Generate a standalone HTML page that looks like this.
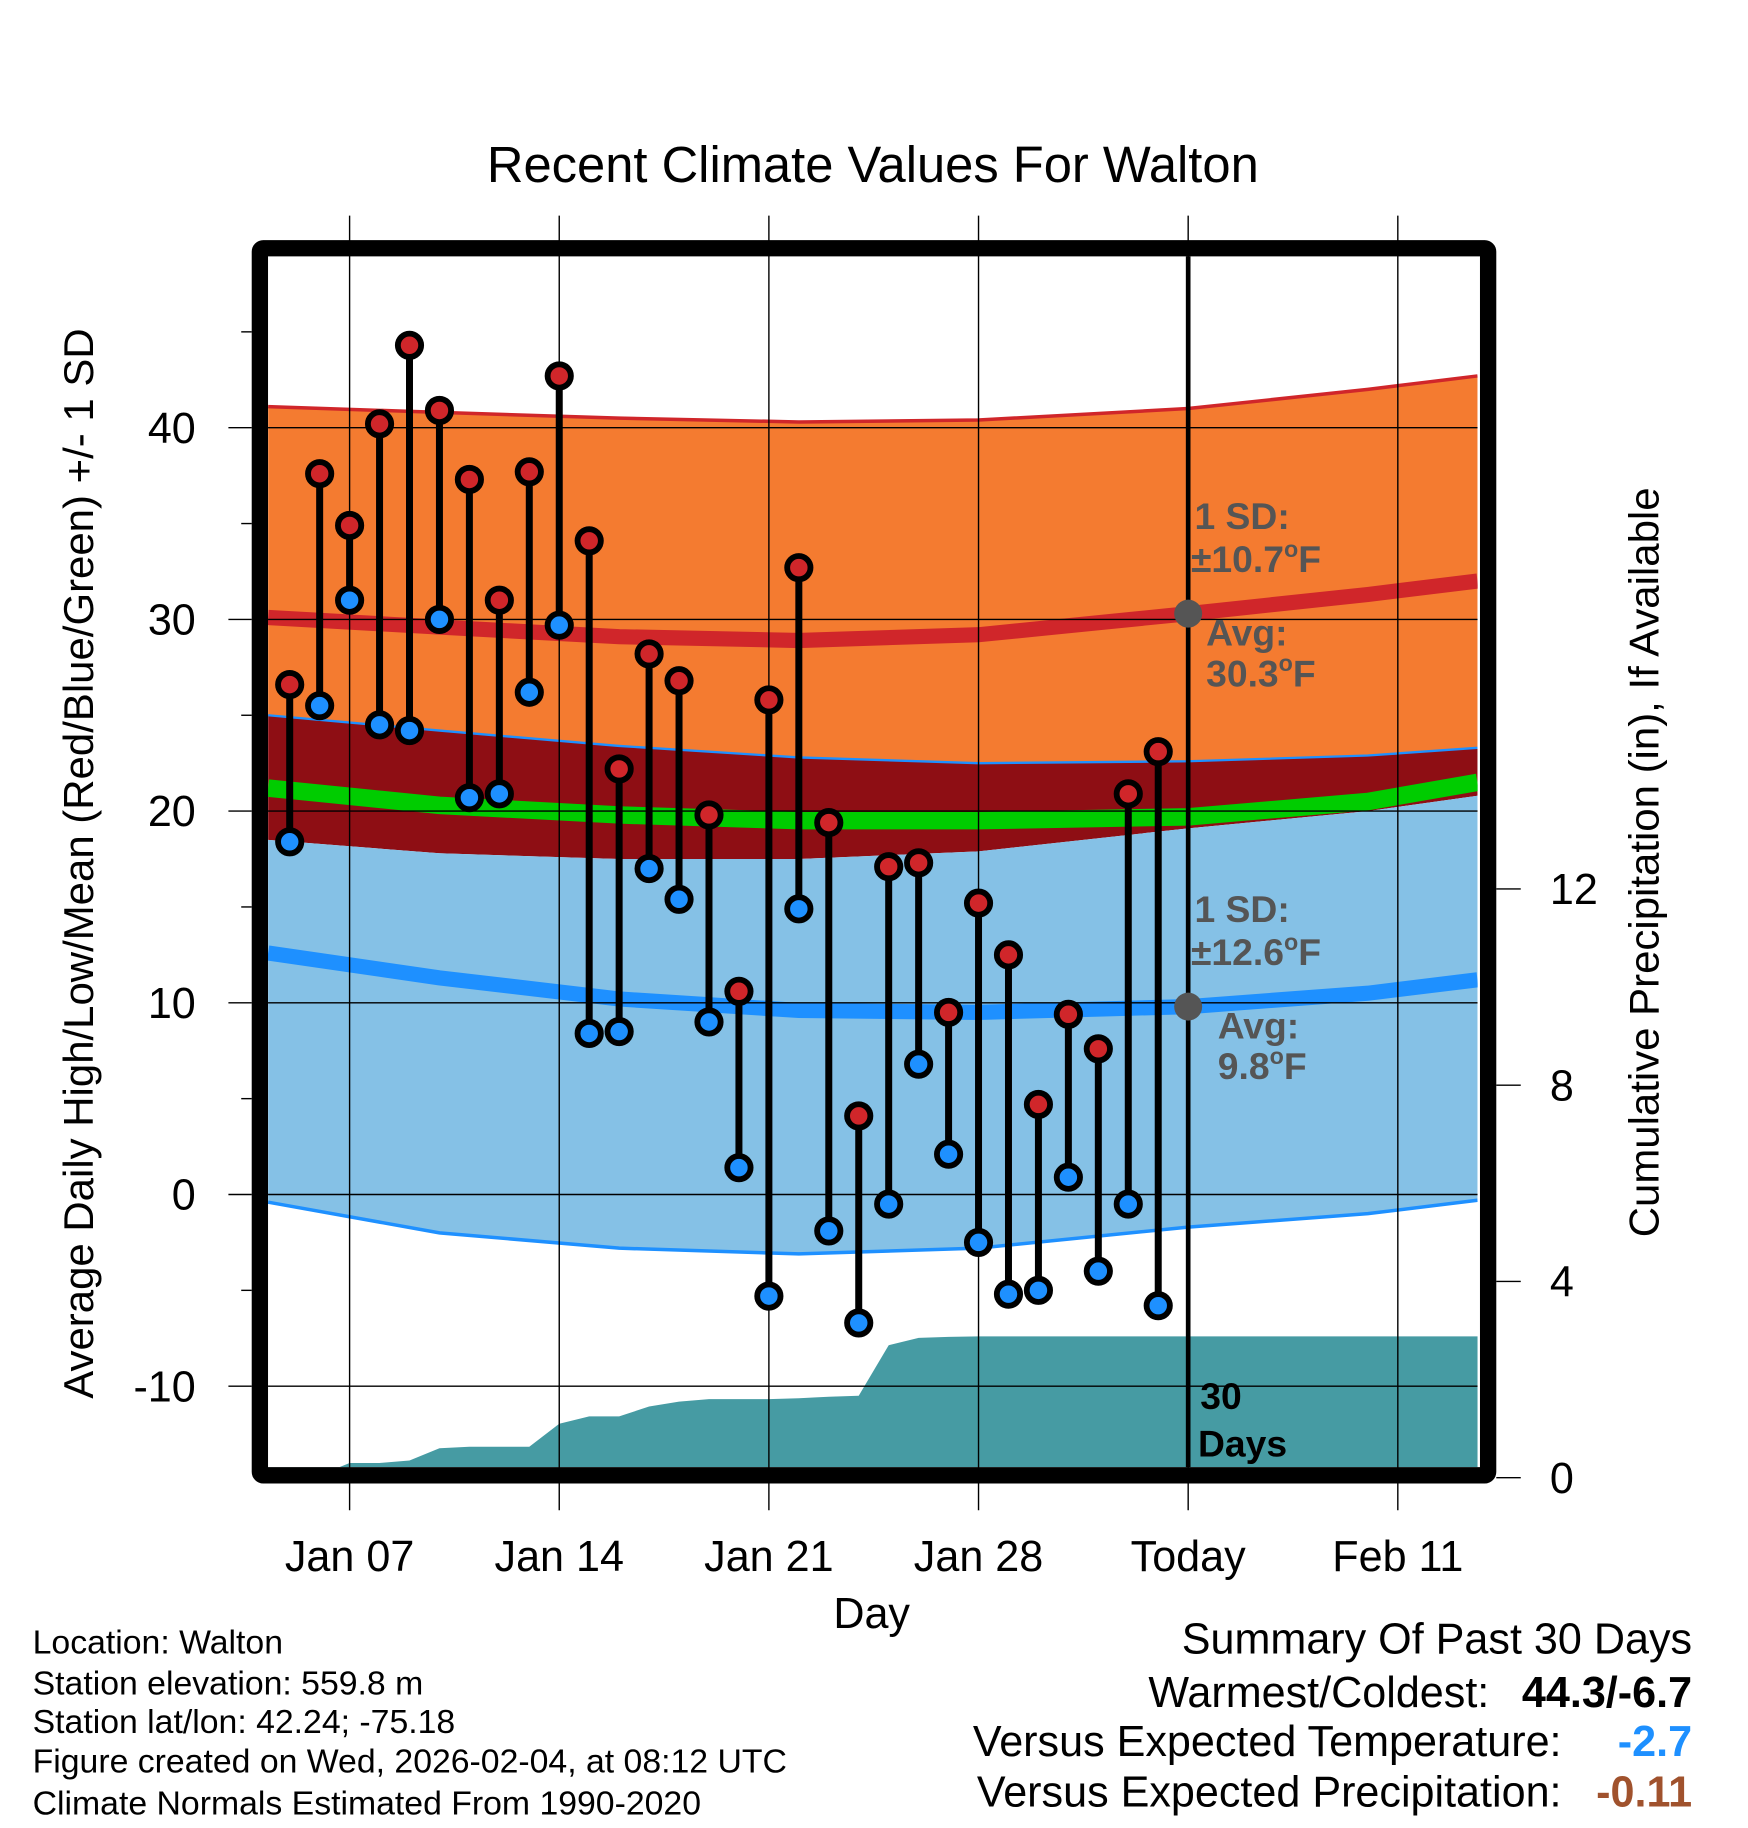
<!DOCTYPE html>
<html><head><meta charset="utf-8"><style>
html,body{margin:0;padding:0;background:#fff}
svg{display:block;font-family:"Liberation Sans",Arial,sans-serif}
</style></head><body>
<svg id="chart" width="1748" height="1828" viewBox="0 0 1500 1568.6" xmlns="http://www.w3.org/2000/svg">
<rect width="1500" height="1569" fill="#fff"/>
<text x="749" y="156" font-size="43.5" text-anchor="middle">Recent Climate Values For Walton</text>
<g id="plot"></g>
<text transform="translate(80,741) rotate(-90)" font-size="36" text-anchor="middle">Average Daily High/Low/Mean (Red/Blue/Green) +/- 1 SD</text>
<text transform="translate(1423,740) rotate(-90)" font-size="36" text-anchor="middle">Cumulative Precipitation (in), If Available</text>
<text x="748" y="1397" font-size="37" text-anchor="middle">Day</text>
<g font-size="29">
<text x="28" y="1419">Location: Walton</text>
<text x="28" y="1454">Station elevation: 559.8 m</text>
<text x="28" y="1487">Station lat/lon: 42.24; -75.18</text>
<text x="28" y="1521">Figure created on Wed, 2026-02-04, at 08:12 UTC</text>
<text x="28" y="1557">Climate Normals Estimated From 1990-2020</text>
</g>
<g font-size="37" text-anchor="end">
<text x="1452" y="1419">Summary Of Past 30 Days</text>
<text x="1278" y="1465">Warmest/Coldest:</text>
<text x="1452" y="1465" font-weight="bold">44.3/-6.7</text>
<text x="1340" y="1507">Versus Expected Temperature:</text>
<text x="1452" y="1507" font-weight="bold" fill="#1E90FF">-2.7</text>
<text x="1340" y="1550">Versus Expected Precipitation:</text>
<text x="1452" y="1550" font-weight="bold" fill="#A0522D">-0.11</text>
</g>
</svg>
<script>
const days=[5,6,7,8,9,10,11,12,13,14,15,16,17,18,19,20,21,22,23,24,25,26,27,28,29,30,31,32,33,34];
const highs=[26.6,37.6,34.9,40.2,44.3,40.9,37.3,31.0,37.7,42.7,34.1,22.2,28.2,26.8,19.8,10.6,25.8,32.7,19.4,4.1,17.1,17.3,9.5,15.2,12.5,4.7,9.4,7.6,20.9,23.1];
const lows=[18.4,25.5,31.0,24.5,24.2,30.0,20.7,20.9,26.2,29.7,8.4,8.5,17.0,15.4,9.0,1.4,-5.3,14.9,-1.9,-6.7,-0.5,6.8,2.1,-2.5,-5.2,-5.0,0.9,-4.0,-0.5,-5.8];
const precip=[0,0.05,0.3,0.3,0.35,0.6,0.63,0.63,0.63,1.1,1.25,1.25,1.45,1.55,1.6,1.6,1.6,1.62,1.65,1.67,2.7,2.85,2.87,2.88,2.88,2.88,2.88,2.88,2.88,2.88];
const normDays=[4.28,10,16,22,28,35,41,44.66];
const highUp=[41.1,40.8,40.5,40.3,40.4,41.0,42.0,42.7];
const highAvg=[30.1,29.6,29.1,28.9,29.2,30.3,31.3,32.0];
const highDn=[25.0,24.2,23.4,22.8,22.5,22.6,22.9,23.3];
const meanT=[21.2,20.3,19.8,19.5,19.5,19.7,20.5,21.5];
const lowUp=[18.5,17.8,17.5,17.5,17.9,19.1,20.0,20.8];
const lowAvg=[12.6,11.3,10.2,9.6,9.5,9.8,10.5,11.2];
const lowDn=[-0.4,-2.0,-2.8,-3.1,-2.8,-1.7,-1.0,-0.3];
const yTicks=[-10,0,10,20,30,40];
const pTicks=[0,4,8,12];
const xTickDays=[7,14,21,28,35,42];
const xTickLabels=["Jan 07","Jan 14","Jan 21","Jan 28","Today","Feb 11"];
const todayDay=35;

const L=230,R=1268,T=220,B=1259;
const X=d=>300+(d-7)*25.7;
const Y=v=>1025-16.45*v;
const P=p=>1268-42.1*p;
const NS="http://www.w3.org/2000/svg";
const g=document.getElementById('plot');
function mk(tag,at,parent){const e=document.createElementNS(NS,tag);for(const k in at)e.setAttribute(k,at[k]);(parent||g).appendChild(e);return e;}
const clip=mk('clipPath',{id:'pc'});mk('rect',{x:L,y:T,width:R-L,height:B-T},clip);
const pg=mk('g',{'clip-path':'url(#pc)'});
function band(a,b,fill,name){let d='M'+normDays.map((x,i)=>X(x)+','+Y(a[i])).join('L');for(let i=normDays.length-1;i>=0;i--)d+='L'+X(normDays[i])+','+Y(b[i]);const e=mk('path',{d:d+'Z',fill:fill},pg);

}
function line(a,stroke,w,name){const e=mk('path',{d:'M'+normDays.map((x,i)=>X(x)+','+Y(a[i])).join('L'),fill:'none',stroke:stroke,'stroke-width':w},pg);

}
band(highUp,highDn,'#F47B30','high-sd-band');
band(highDn,lowUp,'#8E0E14','overlap-band');
band(lowUp,lowDn,'#85C1E6','low-sd-band');
line(highUp,'#D0262A',3,'high-upper-edge');
line(highDn,'#1E90FF',2,'high-lower-edge');
line(lowDn,'#1E90FF',3,'low-lower-edge');
line(meanT,'#00CC00',15,'mean-normal-line');
line(highAvg,'#D0262A',13,'high-normal-line');
line(lowAvg,'#1E90FF',13,'low-normal-line');
let pd='M'+L+','+B;
days.forEach((d,i)=>{pd+='L'+X(d)+','+P(precip[i]);});
pd+='L'+R+','+P(precip[precip.length-1])+'L'+R+','+B+'Z';
const pa=mk('path',{d:pd,fill:'#469BA3'},pg);


yTicks.forEach(v=>{const e=mk('line',{x1:L,x2:R,y1:Y(v),y2:Y(v),stroke:'#000','stroke-width':1.2},pg);

});
xTickDays.forEach(d=>{const e=mk('line',{x1:X(d),x2:X(d),y1:185,y2:1296,stroke:'#000','stroke-width':1.2});

});
const tl=mk('line',{x1:X(todayDay),x2:X(todayDay),y1:T,y2:B,stroke:'#000','stroke-width':4});


const fr=mk('rect',{x:223,y:213,width:1054,height:1053,fill:'none',stroke:'#000','stroke-width':14,rx:3});


yTicks.forEach(v=>{const t=mk('text',{x:168,y:Y(v)+13,'font-size':37,'text-anchor':'end'});t.textContent=v;


mk('line',{x1:196,x2:216,y1:Y(v),y2:Y(v),stroke:'#000','stroke-width':1.2});});
for(let v=-10;v<=45;v+=5){if(v%10)mk('line',{x1:207,x2:216,y1:Y(v),y2:Y(v),stroke:'#000','stroke-width':1.2});}
pTicks.forEach(p=>{mk('line',{x1:1284,x2:1305,y1:P(p),y2:P(p),stroke:'#000','stroke-width':1.2});
const t=mk('text',{x:1330,y:P(p)+13,'font-size':37,'text-anchor':'start'});t.textContent=p;

});
xTickDays.forEach((d,i)=>{const t=mk('text',{x:X(d),y:1348,'font-size':37,'text-anchor':'middle'});t.textContent=xTickLabels[i];

});
days.forEach((d,i)=>{
const s=mk('line',{x1:X(d),x2:X(d),y1:Y(highs[i]),y2:Y(lows[i]),stroke:'#000','stroke-width':6});

});
days.forEach((d,i)=>{
const h=mk('circle',{cx:X(d),cy:Y(highs[i]),r:10,fill:'#D0262A',stroke:'#000','stroke-width':5});


const l=mk('circle',{cx:X(d),cy:Y(lows[i]),r:10,fill:'#1E90FF',stroke:'#000','stroke-width':5});

});
const hA=highAvg[5],lA=lowAvg[5];
[hA,lA].forEach(v=>{const c=mk('circle',{cx:X(todayDay),cy:Y(v),r:12,fill:'#555'});

});
function txt(x,y,s,fill,name){const t=mk('text',{x:x,y:y,'font-size':32,'font-weight':'bold',fill:fill});t.innerHTML=s;

}
txt(1025,454,'1 SD:','#555','high-sd-label');
txt(1022,491,'±10.7<tspan font-size="20" dy="-13">o</tspan><tspan dy="13">F</tspan>','#555','high-sd-value');
txt(1035,554,'Avg:','#555','high-avg-label');
txt(1035,589,'30.3<tspan font-size="20" dy="-13">o</tspan><tspan dy="13">F</tspan>','#555','high-avg-value');
txt(1025,791,'1 SD:','#555','low-sd-label');
txt(1022,828,'±12.6<tspan font-size="20" dy="-13">o</tspan><tspan dy="13">F</tspan>','#555','low-sd-value');
txt(1045,891,'Avg:','#555','low-avg-label');
txt(1045,926,'9.8<tspan font-size="20" dy="-13">o</tspan><tspan dy="13">F</tspan>','#555','low-avg-value');
txt(1030,1209,'30','#000','days-label');
txt(1028,1250,'Days','#000','days-label-2');
</script>
</body></html>
